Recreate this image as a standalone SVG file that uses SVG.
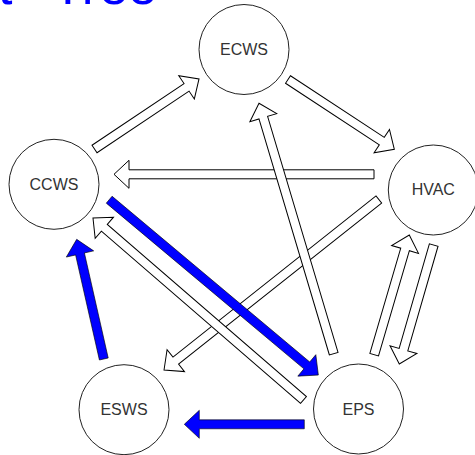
<svg xmlns="http://www.w3.org/2000/svg" width="475" height="455" viewBox="0 0 475 455">
<style>
.n circle{fill:#fff;stroke:#222;stroke-width:1}
.n text{font-family:"Liberation Sans",Arial,sans-serif;font-size:16px;fill:#333;text-anchor:middle}
.a{fill:#fff;stroke:#000;stroke-width:1;stroke-linejoin:miter}
.b{fill:#0000ff;stroke:#000;stroke-width:0.6}
.title{font-family:"Liberation Sans",Arial,sans-serif;font-size:52px;fill:#0000ff}
</style>
<rect width="475" height="455" fill="#fff"/>
<text class="title" x="-2" y="4">t <tspan x="52">Tree</tspan></text>
<g id="connectors">
<path class="a" transform="translate(94.5,149) rotate(-33.82)" d="M0,-4.5H110.8V-14L125.8,0L110.8,14V4.5H0Z"/>
<path class="a" transform="translate(288,79.5) rotate(33.29)" d="M0,-4.5H112.2V-14L127.2,0L112.2,14V4.5H0Z"/>
<path class="a" transform="translate(374,174.3) rotate(180)" d="M0,-4.5H245V-14L260,0L245,14V4.5H0Z"/>
<path class="a" transform="translate(378.8,199.5) rotate(141.56)" d="M0,-4.5H259.2V-14L274.2,0L259.2,14V4.5H0Z"/>
<path class="a" transform="translate(333.7,353.7) rotate(-106.61)" d="M0,-4.5H246.3V-14L261.3,0L246.3,14V4.5H0Z"/>
<path class="a" transform="translate(303.5,400) rotate(-139.15)" d="M0,-4.5H263.3V-14L278.3,0L263.3,14V4.5H0Z"/>
<path class="a" transform="translate(374.2,354.7) rotate(-73.66)" d="M0,-4.5H109.7V-14L124.7,0L109.7,14V4.5H0Z"/>
<path class="a" transform="translate(433.7,245) rotate(106.12)" d="M0,-4.5H108.9V-14L123.9,0L108.9,14V4.5H0Z"/>
<path class="b" transform="translate(109.2,199.7) rotate(39.98)" d="M0,-4.5H257.9V-14L272.9,0L257.9,14V4.5H0Z"/>
<path class="b" transform="translate(103.8,359) rotate(-102.76)" d="M0,-4.5H107.7V-14L122.7,0L107.7,14V4.5H0Z"/>
<path class="b" transform="translate(304.3,424.3) rotate(180)" d="M0,-4.5H105V-14L120,0L105,14V4.5H0Z"/>
</g>
<g id="ECWS" class="n"><circle cx="244" cy="49.5" r="45"/><text x="244" y="55">ECWS</text></g>
<g id="CCWS" class="n"><circle cx="54" cy="184.3" r="45"/><text x="54" y="190">CCWS</text></g>
<g id="HVAC" class="n"><circle cx="433.3" cy="190" r="45"/><text x="433.3" y="195">HVAC</text></g>
<g id="ESWS" class="n"><circle cx="124" cy="409.7" r="45"/><text x="124" y="415">ESWS</text></g>
<g id="EPS" class="n"><circle cx="358.5" cy="409" r="45"/><text x="358.5" y="415">EPS</text></g>
</svg>
